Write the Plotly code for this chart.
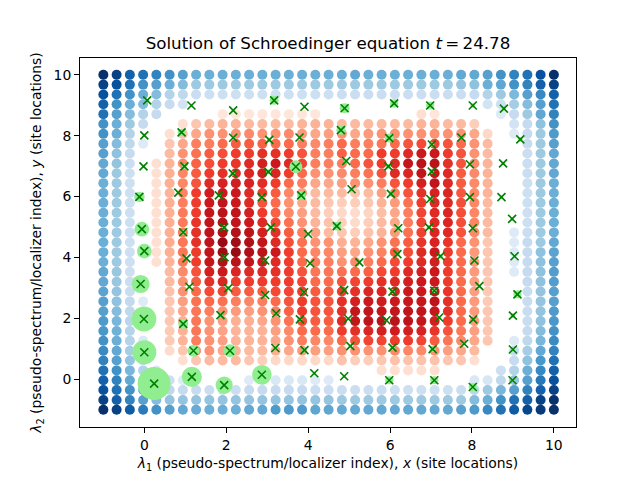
import numpy as np
import plotly.graph_objects as go

# site grid, x and y share the same coordinates
site_coords = [-1, -0.676, -0.353, -0.029, 0.294, 0.618, 0.941, 1.265, 1.588, 1.912, 2.235, 2.559,
               2.882, 3.206, 3.529, 3.853, 4.176, 4.5, 4.824, 5.147, 5.471, 5.794, 6.118, 6.441,
               6.765, 7.088, 7.412, 7.735, 8.059, 8.382, 8.706, 9.029, 9.353, 9.676, 10]

# local gap per site, first row is the top of the plot (blue < 0 < red)
row_00 = [-8, -7.5, -6.5, -6, -5.5, -5, -4.5, -4, -4, -4, -4, -4, -4, -4, -4, -4, -4, -4, -4, -4.2, -4, -4, -4, -4, -4, -4, -4, -4.2, -4.2, -4.5, -5, -5.5, -6, -7, -8]
row_01 = [-7.5, -7, -6, -5, -4.5, -4, -3.5, -3, -3, -3, -3, -3, -3, -3, -3, -3, -3, -3, -3, -3, -3, -3, -3, -3, -3, -3, -3, -3.2, -3.3, -4, -4.3, -5, -5.5, -6.5, -7.5]
row_02 = [-7, -6, -5, -4, -3.5, -2.5, -2.2, -1.8, -1.7, -1.7, -1.7, -1.7, -1.7, -1.7, -1.7, -1.7, -1.7, -1.7, -1.8, -1.8, -1.8, -1.8, -1.8, -1.8, -1.8, -1.8, -1.8, -1.8, -2, -2.5, -3, -3.6, -4.5, -5.3, -6.5]
row_03 = [-6.5, -5, -4, -3.5, -2.5, -2, -1.5, 0, 0, 0, 0, 0, 0, 0, 0, 0, 0, 0, 0, 0, 0, 0, 0, 0, 0, 0, 0, 0, 0, -1.5, -1.7, -2.8, -3.5, -4.5, -6]
row_04 = [-6, -4.5, -3.5, -2.5, -2, 0, 0, 0, 0, 0.8, 0.8, 0.8, 0.8, 0.8, 0.8, 0.8, 0.8, 0, 0, 0, 0, 0, 0, 0, 1, 0.8, 0, 0, 0, 0, -1, -2, -3, -4.3, -5.5]
row_05 = [-5, -4, -3, -2, 0, 0, 1, 1.7, 2, 2.2, 2.2, 2, 2, 2, 2, 2.2, 2.2, 2.2, 2, 2, 2, 2, 2, 2, 2.2, 2.2, 2, 2, 1.5, 0, 0, -1.5, -2, -3.3, -5]
row_06 = [-5, -4, -2.5, 0, 0, 1, 1.8, 2.5, 3, 3, 3, 3.2, 3, 3, 3.2, 2.8, 2.5, 2.7, 3, 2.5, 2.8, 3, 3, 3, 3, 3, 3, 3, 2.5, 1.2, 0, -1, -2, -3, -4.7]
row_07 = [-4.5, -3.5, -2.2, -1, 0, 1.7, 2.5, 3.5, 3.5, 4, 4.3, 4.3, 4.2, 4, 4, 3.5, 3.2, 3.5, 4, 3.5, 3.5, 3.7, 4, 4.5, 4.7, 4.8, 4.5, 4, 3, 2, 0, 0, -2, -3, -4.5]
row_08 = [-4.5, -3.3, -2, 0, 0, 2, 3, 3.8, 4.3, 4.6, 5, 5, 5.3, 5.3, 5, 4.5, 3.5, 3.5, 4.2, 4, 4, 5, 5, 5.5, 6, 6, 5, 4.5, 3, 2, 0, 0, -1.8, -3, -4.2]
row_09 = [-4.2, -3.2, -1.8, 0, 1, 2.2, 3.2, 4.2, 4.6, 5, 5.2, 5.5, 5.8, 6, 5.5, 4.8, 3.5, 3.5, 3.5, 4, 4.5, 5, 5.5, 6.2, 6.5, 6.5, 5.3, 4.5, 3.2, 2.2, 0, 0, -1.8, -3, -4.2]
row_10 = [-4.2, -3, -1.7, 0, 1, 2.3, 3.3, 4.3, 5, 5.3, 5.5, 5.6, 5.8, 5.6, 5, 4, 3, 3, 3.2, 3.5, 3.8, 4.5, 5.5, 5.6, 6.3, 6.2, 5.5, 4.3, 3.2, 2.2, 0, 0, -1.8, -3, -4.2]
row_11 = [-4, -3, -1.7, 0, 1, 2.3, 3.3, 4.5, 5.5, 5.7, 5.8, 5.7, 5.4, 5, 4, 3.5, 2.5, 2.5, 2.7, 3, 3, 3.5, 4.5, 5, 5.8, 6.3, 5.5, 4.3, 3.2, 2.2, 0, 0, -1.7, -3, -4]
row_12 = [-4, -3, -1.7, 0, 1, 2.2, 3.4, 5, 5.9, 6, 6, 5.5, 5, 4.3, 3.3, 2.7, 2, 2, 2, 1.7, 2, 2.7, 3.5, 4.5, 5.3, 5.7, 5.6, 4.4, 3.2, 2.2, 0, 0, -1.7, -3, -4]
row_13 = [-4, -3, -1.7, 0, 1, 2.3, 3.5, 5, 6, 6.3, 6, 5.5, 4.5, 4, 3, 2.5, 2, 1.7, 1.5, 1.5, 1.7, 2.2, 2.8, 3.8, 5, 5.5, 5.5, 4.6, 3.3, 2, 0, 0, -1.7, -3, -4]
row_14 = [-4, -3, -1.7, 0, 1, 2.3, 3.6, 5, 6.2, 6.5, 6.3, 5.8, 5, 4.2, 3.2, 2.7, 2, 1.5, 1.2, 1.1, 1.3, 1.9, 2.5, 3.5, 4.8, 5.5, 5.6, 4.6, 3.3, 2, 0, 0, -1.7, -3, -4]
row_15 = [-4, -3, -1.7, 0, 1, 2.3, 3.6, 5.2, 6.3, 6.6, 6.3, 6, 5.5, 4.7, 3.8, 3, 2.2, 1.8, 1.4, 1.1, 1.5, 2, 2.5, 3.5, 4.8, 5.5, 5.6, 4.6, 3.3, 2, 0, 0, -1.7, -3, -4]
row_16 = [-4, -3, -1.7, 0, 1, 2.3, 3.6, 5.3, 6.4, 6.7, 6.7, 6.5, 5.8, 5.3, 4.3, 3.5, 2.6, 2, 1.7, 1.5, 1.8, 2.2, 2.8, 3.8, 4.9, 5.6, 5.5, 4.5, 3.2, 2, 0, -1, -1.8, -3, -4]
row_17 = [-4, -3, -1.7, 0, 1, 2.4, 3.7, 5.3, 6.4, 7.2, 7.1, 6.8, 6.2, 5.5, 4.6, 3.8, 3, 3, 2.3, 2.2, 2.5, 3, 3.8, 4.3, 5.2, 5.7, 5.2, 4, 3, 1.7, 0, -1, -2, -3, -4.2]
row_18 = [-4, -3, -1.7, 0, 1, 2.3, 3.7, 5, 6.3, 7.1, 7.2, 6.8, 6.5, 6, 5, 4, 3.3, 3.3, 2.7, 2.5, 3, 3.4, 4.3, 4.6, 5.5, 6, 5, 4, 2.8, 1.7, 0, -1, -2, -3.3, -4.4]
row_19 = [-4, -3, -1.7, 0, 1, 2.2, 3.6, 5, 6.2, 6.7, 6.5, 6.3, 6, 5.5, 5, 4, 3.5, 3.5, 3, 3.2, 3.5, 4, 4.7, 5, 5.5, 5.8, 5, 4, 2.8, 1.7, 0, -1, -2, -3.3, -4.5]
row_20 = [-4.2, -3.1, -1.7, 0, 0, 2, 3.2, 4.5, 5.8, 6, 5.6, 5.5, 5.5, 5.3, 5, 4.5, 3.7, 3.7, 3.8, 4, 4.2, 4.7, 5, 5.5, 5.8, 6, 5, 4, 2.8, 1.7, 0, -1, -2, -3.3, -4.6]
row_21 = [-4.2, -3.1, -1.8, 0, 0, 2, 3, 4.3, 5.3, 5.6, 5, 5, 5, 5, 5, 4.8, 4, 4, 4.5, 4.8, 5, 5.3, 5.5, 5.8, 6, 6, 5, 4, 2.7, 1.7, 0, 0, -2, -3.3, -4.6]
row_22 = [-4.4, -3.2, -1.9, 0, 0, 1.8, 3, 4, 4.7, 4.8, 4.3, 4.3, 4.3, 4.7, 4.8, 5, 4.3, 4.3, 5, 5.3, 5.6, 5.6, 5.7, 6, 6, 6.2, 5.2, 4, 2.7, 1.6, 0, 0, -1.9, -3.2, -4.5]
row_23 = [-4.5, -3.3, -2.1, -1, 0, 1.7, 2.7, 3.8, 4, 3.8, 3.5, 3.3, 3.5, 4, 4.5, 5, 4.5, 4.5, 5.3, 5.8, 6, 5.9, 6, 6.1, 6.1, 6.4, 5.3, 4, 2.8, 1.6, 0, 0, -1.9, -3.2, -4.5]
row_24 = [-4.5, -3.5, -2.2, 0, 0, 1.7, 2.5, 3.7, 3.5, 3, 2.8, 2.7, 3, 3.5, 4.2, 5, 4.5, 4.5, 5.3, 6.2, 6.3, 6.2, 6.2, 6.3, 6.3, 6.1, 5.3, 4, 2.8, 1.7, 0, 0, -1.9, -3.2, -4.7]
row_25 = [-4.7, -3.7, -2.3, 0, 0, 1.7, 2.3, 3.7, 3, 2.7, 2.3, 2.3, 2.5, 3, 3.8, 4.7, 4.3, 4.3, 5.5, 6.2, 6.4, 6.5, 6.5, 6.4, 6.2, 5.8, 5, 4, 2.8, 1.7, 0, 0, -1.9, -3.3, -4.8]
row_26 = [-4.8, -3.9, -2.4, 0, 0, 1.6, 2.2, 3.7, 3, 2.6, 2.2, 2.2, 2.2, 2.7, 3.2, 4, 4, 4, 5, 5.3, 5.6, 5.8, 5.9, 5.8, 5.7, 5.2, 4.5, 3.6, 2.7, 1.7, 0, 0, -2, -3.5, -5]
row_27 = [-5, -4, -2.5, -1.2, 0, 1.6, 2.2, 3.5, 3, 2.7, 2.2, 2.2, 2.2, 2.5, 3, 3.5, 3.3, 3.3, 4, 4.5, 4.8, 4.8, 5, 5, 4.8, 4.3, 3.7, 3.2, 2.5, 1.7, 0, -1, -2.2, -3.7, -5.2]
row_28 = [-5.2, -4.2, -2.8, -1.7, 0, 1.1, 1.7, 3, 3, 2.5, 2.2, 2, 2, 2.3, 2.5, 2.8, 2.7, 2.7, 3, 3, 3, 3, 3.2, 3.3, 3.2, 3, 2.7, 2.5, 2, 0, 0, -2, -2.8, -4.2, -5.5]
row_29 = [-5.5, -4.5, -3.2, -2, 0, 0, 1, 1.7, 2, 2, 2, 1.7, 1.5, 1.2, 1.2, 1.2, 1.2, 1.2, 1.8, 1.5, 1.5, 1.7, 1.8, 1.8, 1.8, 1.8, 1.7, 1.7, 1, 0, 0, -2, -3.3, -4.8, -6]
row_30 = [-6, -5, -3.7, -2.5, -1, 0, 0, 0, 0, 0, 0, 0, 0, 0, 0, 0, 0, 0, 0, 0, 0, 1, 1, 1, 1, 1, 0, 0, 0, 0, -1.7, -2.5, -4, -5.3, -6.5]
row_31 = [-6.5, -5.5, -4.2, -3.2, -2.3, -1.7, -1, 0, 0, 0, 0, -1, -1.2, -1.2, -1.2, -1.2, -1, -1, 0, 0, 0, 0, 0, 0, 0, 0, 0, 0, -1.2, -1.3, -2.2, -3.2, -4.5, -5.8, -7]
row_32 = [-7, -6, -5, -4, -3, -2.2, -2, -2, -1.8, -1.8, -1.8, -2, -2, -2, -2, -2, -1.8, -1.8, -1.8, -1.8, -1.8, -1.8, -1.7, -1.7, -1.7, -1.7, -1.7, -1.8, -2.3, -3, -3.7, -4.5, -5.5, -6.5, -7.5]
row_33 = [-7.5, -6.5, -5.5, -4.5, -3.5, -3.2, -3.2, -3.2, -3.2, -3.2, -3.2, -3.2, -3.2, -3.2, -3.2, -3.2, -3.2, -3.2, -3, -3, -3, -3, -3, -3, -3, -3, -3, -3, -3.5, -4, -5, -6, -6.5, -7.5, -8]
row_34 = [-8, -7.5, -6.7, -5.7, -5, -4.5, -4.2, -4.1, -4, -4, -4, -4.2, -4.2, -4.7, -4.7, -4.7, -4.3, -4.3, -4.2, -4.2, -4.2, -4.2, -4.2, -4.2, -4.2, -4.2, -4.2, -4.5, -4.7, -5.3, -6, -6.7, -7.3, -7.7, -8]

site_values = [row_00, row_01, row_02, row_03, row_04, row_05, row_06, row_07, row_08, row_09, row_10, row_11,
               row_12, row_13, row_14, row_15, row_16, row_17, row_18, row_19, row_20, row_21, row_22, row_23,
               row_24, row_25, row_26, row_27, row_28, row_29, row_30, row_31, row_32, row_33, row_34]

# eigenvalue pairs of the localizer and the weight of the state on each
lambda_1 = [0.07, 1.15, 2.17, 3.17, 3.91, 0, 0.91, 2.17, 3.05, 3.79,
            -0.02, 0.98, 2.16, 3.03, 3.70, -0.12, 0.83, 1.82, 2.87, 3.83,
            -0.06, 0.95, 1.95, 3.09, 4.0, 0, 1.03, 1.96, 2.95, 4.05,
            -0.09, 1.10, 2.05, 2.95, 3.90, -0.01, 0.95, 1.86, 3.22, 3.80,
            0, 1.20, 2.09, 3.20, 3.91, 0.24, 1.16, 1.95, 2.87, 4.15,
            4.89, 6.10, 6.98, 8.02, 8.78, 4.80, 5.98, 7.02, 7.74, 9.18,
            4.93, 5.96, 7.02, 7.95, 8.76, 5.06, 6.02, 6.98, 7.95, 8.72,
            8.98, 4.70, 6.20, 6.95, 8.02, 6.18, 7.23, 8.06, 9.04, 5.25,
            4.88, 6.06, 7.08, 8.18, 9.11, 4.98, 5.91, 7.20, 8.03, 9.00,
            5.03, 6.06, 7.04, 7.81, 9.00, 4.88, 5.98, 7.08, 8.02, 8.99]
lambda_2 = [9.16, 8.99, 8.83, 9.16, 8.95, 8.01, 8.11, 7.93, 7.86, 7.94,
            6.99, 6.99, 6.76, 6.81, 6.98, 5.99, 6.13, 6.04, 5.98, 6.04,
            4.93, 4.83, 4.99, 4.99, 4.77, 4.21, 3.97, 4.01, 3.90, 3.81,
            3.13, 3.04, 2.99, 2.77, 2.86, 1.98, 1.82, 2.11, 2.17, 1.97,
            0.89, 0.94, 0.94, 1.03, 0.96, -0.14, 0.08, -0.19, 0.15, 0.20,
            8.90, 9.06, 8.99, 8.99, 8.89, 8.18, 7.92, 7.71, 7.94, 7.88,
            7.17, 6.99, 6.82, 7.06, 7.09, 6.24, 6.09, 5.92, 5.98, 5.98,
            5.27, 5.03, 4.96, 4.99, 4.96, 4.11, 4.04, 3.90, 4.04, 3.84,
            2.93, 2.88, 2.91, 3.06, 2.79, 1.99, 1.94, 2.03, 1.97, 2.09,
            1.09, 1.04, 0.99, 1.17, 0.98, 0.10, -0.03, -0.03, -0.25, -0.03]
state_weight = [0.01, 0.01, 0.01, 0.075, 0.01, 0.01, 0.05, 0.01, 0.02, 0.01,
                0.01, 0.02, 0.02, 0.02, 0.155, 0.10, 0.01, 0.01, 0.02, 0.06,
                0.20, 0.02, 0.02, 0.02, 0.01, 0.20, 0.01, 0.01, 0.01, 0.01,
                0.30, 0.01, 0.02, 0.01, 0.01, 0.57, 0.09, 0.02, 0.01, 0.02,
                0.53, 0.13, 0.155, 0.02, 0.02, 1.0, 0.37, 0.27, 0.35, 0.01,
                0.09, 0.06, 0.06, 0.02, 0.01, 0.075, 0.075, 0.02, 0.01, 0.02,
                0.02, 0.02, 0.02, 0.01, 0.01, 0.02, 0.02, 0.02, 0.01, 0.01,
                0.01, 0.07, 0.02, 0.02, 0.01, 0.01, 0.02, 0.01, 0.01, 0.01,
                0.01, 0.02, 0.02, 0.01, 0.06, 0.01, 0.01, 0.01, 0.01, 0.02,
                0.01, 0.02, 0.03, 0.01, 0.02, 0.01, 0.06, 0.06, 0.06, 0.01]

x_ticks = [0, 2, 4, 6, 8, 10]
y_ticks = [0, 2, 4, 6, 8, 10]

title = "Solution of Schroedinger equation <i>t</i>\u2009=\u200924.78"
x_label = "<i>λ</i><sub>1</sub> (pseudo-spectrum/localizer index), <i>x</i> (site locations)"
y_label = "<i>λ</i><sub>2</sub> (pseudo-spectrum/localizer index), <i>y</i> (site locations)"

# Blues below zero, Reds above, in the matplotlib steps
blues = ["#ffffff", "#deebf7", "#c6dbef", "#9ecae1", "#6baed6", "#4292c6", "#2171b5", "#08519c", "#08306b"]
reds = ["#ffffff", "#fee0d2", "#fcbba1", "#fc9272", "#fb6a4a", "#ef3b2c", "#cb181d", "#a50f15", "#67000d"]
colorscale = [[(8 - i) / 16, blues[i]] for i in range(8, 0, -1)]
colorscale += [[(8 + i) / 16, reds[i]] for i in range(9)]

grid_x, grid_y = np.meshgrid(site_coords, site_coords[::-1])
values = np.array(site_values)
keep = values != 0

fig = go.Figure()
fig.add_trace(go.Scatter(
    x=grid_x[keep], y=grid_y[keep], mode="markers",
    marker=dict(size=10, color=values[keep], colorscale=colorscale, cmin=-8, cmax=8, line_width=0, opacity=1),
    showlegend=False,
))
fig.add_trace(go.Scatter(
    x=lambda_1, y=lambda_2, mode="markers",
    marker=dict(size=33 * np.sqrt(state_weight), color="#90ee90", line_width=0, opacity=1),
    showlegend=False,
))
fig.add_trace(go.Scatter(
    x=lambda_1, y=lambda_2, mode="markers",
    marker=dict(symbol="x-thin", size=8, line=dict(color="#008000", width=1.6)),
    showlegend=False,
))

axis_style = dict(
    showgrid=False, zeroline=False, showline=True, linecolor="black", linewidth=1.1, mirror=True,
    ticks="outside", ticklen=4.9, tickwidth=1.1, tickcolor="black",
    tickfont=dict(size=13.9, color="black"),
)
# the page body has an 8px margin, so the figure is 8px smaller and starts 8px in
fig.update_layout(
    width=632, height=472, autosize=False,
    margin=dict(l=72, r=64, t=49.6, b=44.8, pad=0),
    paper_bgcolor="white", plot_bgcolor="white",
    font=dict(family="DejaVu Sans", color="black"),
    title=dict(text=title, font=dict(size=16.7), x=320 / 632, xanchor="center", xref="container",
               y=1 - 35 / 472, yanchor="middle", yref="container"),
    xaxis=dict(range=[-1.57, 10.54], tickvals=x_ticks,
               title=dict(text=x_label, font=dict(size=13.9), standoff=6), **axis_style),
    yaxis=dict(range=[-1.565, 10.55], tickvals=y_ticks,
               title=dict(text=y_label, font=dict(size=13.9), standoff=8), **axis_style),
)

fig.write_html("out.html")
